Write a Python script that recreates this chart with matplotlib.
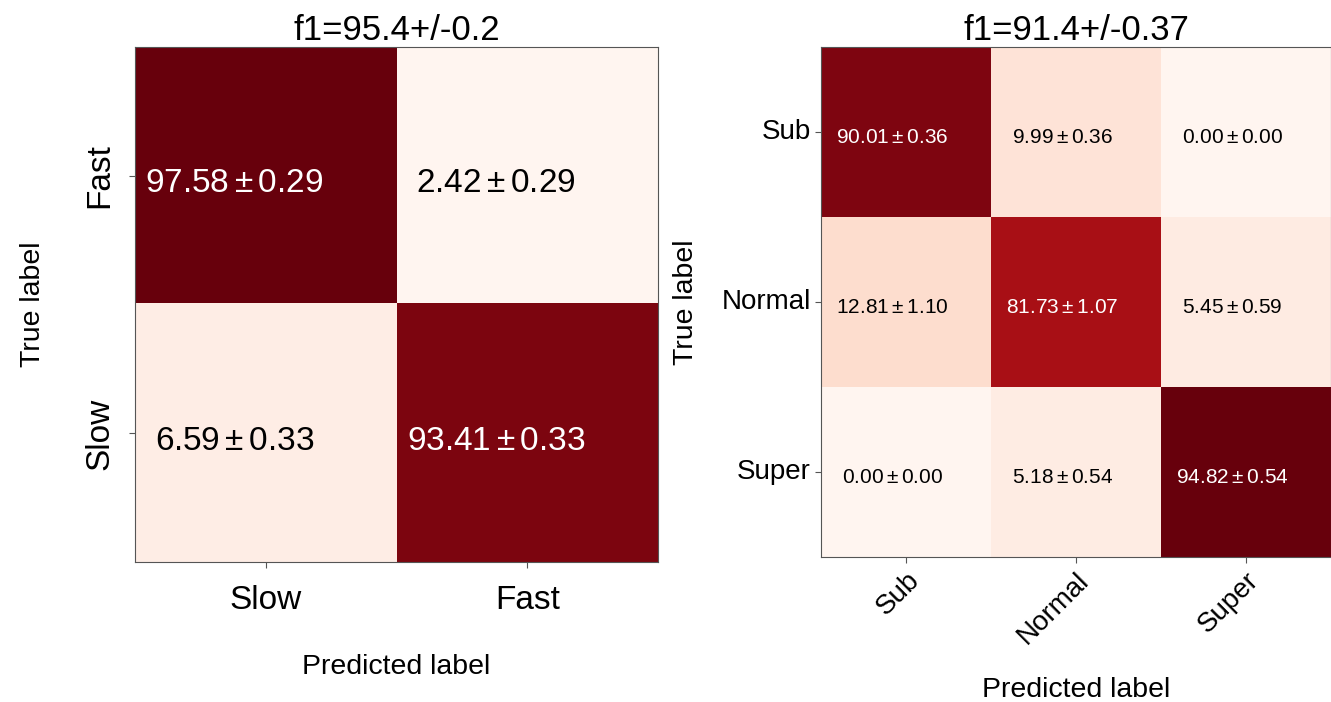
import numpy as np
import matplotlib
matplotlib.use('Agg')
import matplotlib.pyplot as plt

plt.rcParams['font.family'] = ['Liberation Sans', 'DejaVu Sans']
plt.rcParams['mathtext.fontset'] = 'custom'
plt.rcParams['mathtext.rm'] = 'Liberation Sans'
plt.rcParams['mathtext.it'] = 'Liberation Sans'

# Matriz 2 classes
classes2 = ['Slow', 'Fast']
ylabels2 = ['Fast', 'Slow']
media2 = np.array([[97.58, 2.42],
                   [6.59, 93.41]])
desvio2 = np.array([[0.29, 0.29],
                    [0.33, 0.33]])
titulo2 = 'f1=95.4+/-0.2'

# Matriz 3 classes
classes3 = ['Sub', 'Normal', 'Super']
media3 = np.array([[90.01, 9.99, 0.00],
                   [12.81, 81.73, 5.45],
                   [0.00, 5.18, 94.82]])
desvio3 = np.array([[0.36, 0.36, 0.00],
                    [1.10, 1.07, 0.59],
                    [0.00, 0.54, 0.54]])
titulo3 = 'f1=91.4+/-0.37'

fig = plt.figure(figsize=(13.31, 7.02), dpi=100)
ax1 = fig.add_axes([0.1014, 0.199, 0.393, 0.734])
ax2 = fig.add_axes([0.617, 0.2066, 0.383, 0.726])


def plota_matriz(ax, m, s, xlab, ylab, titulo, fs_txt, dx, fs_tick, rot_x, rot_y):
    ax.imshow(m, cmap='Reds', aspect='auto')
    limiar = m.max() / 2
    for i in range(m.shape[0]):
        for j in range(m.shape[1]):
            cor = 'white' if m[i, j] > limiar else 'black'
            ax.text(j + dx, i + 0.03, f'${m[i, j]:.2f}\\pm{s[i, j]:.2f}$',
                    ha='center', va='center', color=cor, fontsize=fs_txt)
    ax.set_xticks(range(len(xlab)))
    ax.set_yticks(range(len(ylab)))
    ax.set_xticklabels(xlab, fontsize=fs_tick, rotation=rot_x,
                       ha='right' if rot_x else 'center',
                       rotation_mode='anchor' if rot_x else 'default')
    ax.set_yticklabels(ylab, fontsize=fs_tick, rotation=rot_y,
                       va='center')
    ax.set_title(titulo, fontsize=25, pad=2)
    ax.set_xlabel('Predicted label', fontsize=20.5)
    ax.set_ylabel('True label', fontsize=20.5)
    for sp in ax.spines.values():
        sp.set_color('#555555')
    ax.tick_params(color='#555555', length=4)


plota_matriz(ax1, media2, desvio2, classes2, ylabels2, titulo2, 24, -0.12, 24, 0, 90)
ax1.xaxis.labelpad = 28
ax1.yaxis.labelpad = 28
ax1.tick_params(axis='x', pad=12)
ax1.tick_params(axis='y', pad=10)

plota_matriz(ax2, media3, desvio3, classes3, classes3, titulo3, 15, -0.08, 20, 45, 0)
ax2.xaxis.labelpad = 20
ax2.yaxis.labelpad = 16

plt.savefig('out.png', dpi=100)
